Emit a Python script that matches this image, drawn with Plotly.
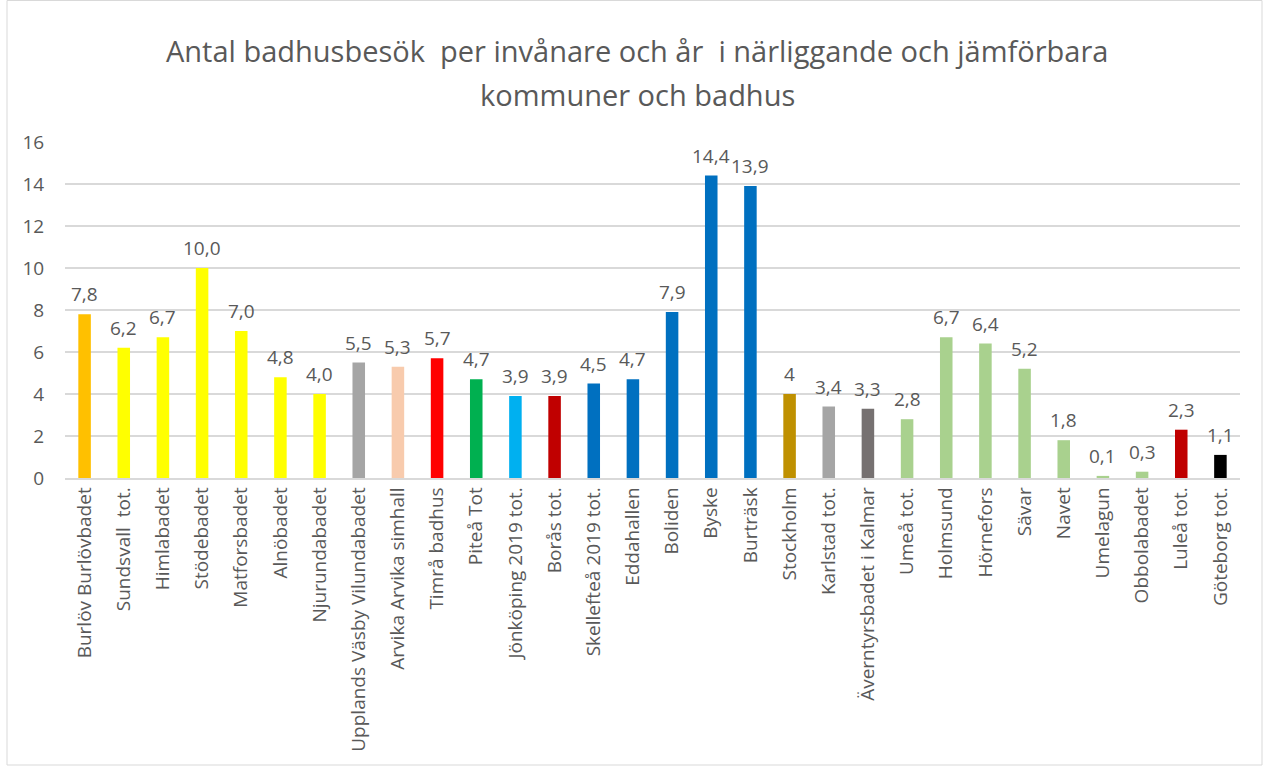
import plotly.graph_objects as go

categories = ["Burlöv Burlövbadet", "Sundsvall  tot.", "Himlabadet", "Stödebadet", "Matforsbadet",
              "Alnöbadet", "Njurundabadet", "Upplands Väsby Vilundabadet", "Arvika Arvika simhall",
              "Timrå badhus", "Piteå Tot", "Jönköping 2019 tot.", "Borås tot.", "Skellefteå 2019 tot.",
              "Eddahallen", "Boliden", "Byske", "Burträsk", "Stockholm", "Karlstad tot.",
              "Äverntyrsbadet i Kalmar", "Umeå tot.", "Holmsund", "Hörnefors", "Sävar", "Navet",
              "Umelagun", "Obbolabadet", "Luleå tot.", "Göteborg tot."]
values = [7.8, 6.2, 6.7, 10.0, 7.0, 4.8, 4.0, 5.5, 5.3, 5.7, 4.7, 3.9, 3.9, 4.5, 4.7, 7.9,
          14.4, 13.9, 4.0, 3.4, 3.3, 2.8, 6.7, 6.4, 5.2, 1.8, 0.1, 0.3, 2.3, 1.1]
labels = ["7,8", "6,2", "6,7", "10,0", "7,0", "4,8", "4,0", "5,5", "5,3", "5,7", "4,7", "3,9",
          "3,9", "4,5", "4,7", "7,9", "14,4", "13,9", "4", "3,4", "3,3", "2,8", "6,7", "6,4",
          "5,2", "1,8", "0,1", "0,3", "2,3", "1,1"]
colors = ["#FFC000", "#FFFF00", "#FFFF00", "#FFFF00", "#FFFF00", "#FFFF00", "#FFFF00", "#A5A5A5",
          "#F8CBAD", "#FF0000", "#00B050", "#00B0F0", "#C00000", "#0070C0", "#0070C0", "#0070C0",
          "#0070C0", "#0070C0", "#BF9000", "#A5A5A5", "#767171", "#A9D18E", "#A9D18E", "#A9D18E",
          "#A9D18E", "#A9D18E", "#A9D18E", "#A9D18E", "#C00000", "#000000"]
yticks = [0, 2, 4, 6, 8, 10, 12, 14, 16]
title_lines = ["Antal badhusbesök  per invånare och år  i närliggande och jämförbara",
               "kommuner och badhus"]

FONT = "Open Sans"
TXT = "#595959"
fig = go.Figure(go.Bar(
    x=categories, y=values, marker=dict(color=colors, line=dict(width=0)),
    width=0.32, hoverinfo="x+y",
))

L, R, T, B = 65, 25, 142, 291
W, H = 1265, 769
pw, ph = W - L - R, H - T - B

def px(x):
    return (x - L) / pw

def py(y):
    return (H - B - y) / ph

value_annotations = [dict(text=lab, x=c, y=v, xref="x", yref="y", xanchor="center",
                          yanchor="bottom", yshift=5, showarrow=False,
                          font=dict(family=FONT, size=19, color=TXT))
                     for c, v, lab in zip(categories, values, labels)]
title_annotations = [dict(text=t, xref="paper", yref="paper", x=px(637), y=py(yy),
                          xanchor="center", yanchor="middle", showarrow=False,
                          font=dict(family=FONT, size=29, color=TXT))
                     for t, yy in zip(title_lines, [50, 94])]

fig.update_layout(
    width=W, height=H,
    margin=dict(l=L, r=R, t=T, b=B, autoexpand=False),
    paper_bgcolor="white", plot_bgcolor="white",
    showlegend=False,
    font=dict(family=FONT, color=TXT),
    xaxis=dict(tickangle=-90, tickfont=dict(family=FONT, size=19, color=TXT),
               showline=True, linecolor="#D9D9D9", linewidth=1.5, ticks="", showgrid=False),
    yaxis=dict(range=[0, 16], tickvals=yticks, ticktext=[str(v) for v in yticks],
               tickfont=dict(family=FONT, size=19, color=TXT),
               showgrid=True, gridcolor="#D9D9D9", gridwidth=1.5, zeroline=False,
               ticks="outside", ticklen=16, tickcolor="rgba(0,0,0,0)", showline=False),
    annotations=value_annotations + title_annotations,
    shapes=[dict(type="rect", xref="paper", yref="paper",
                 x0=px(7), x1=px(1262), y0=py(0.5), y1=py(765),
                 line=dict(color="#D9D9D9", width=1), fillcolor="rgba(0,0,0,0)", layer="below")],
)

fig.write_html("out.html", config={"displayModeBar": False},
               post_script="document.body.style.margin='0';")
